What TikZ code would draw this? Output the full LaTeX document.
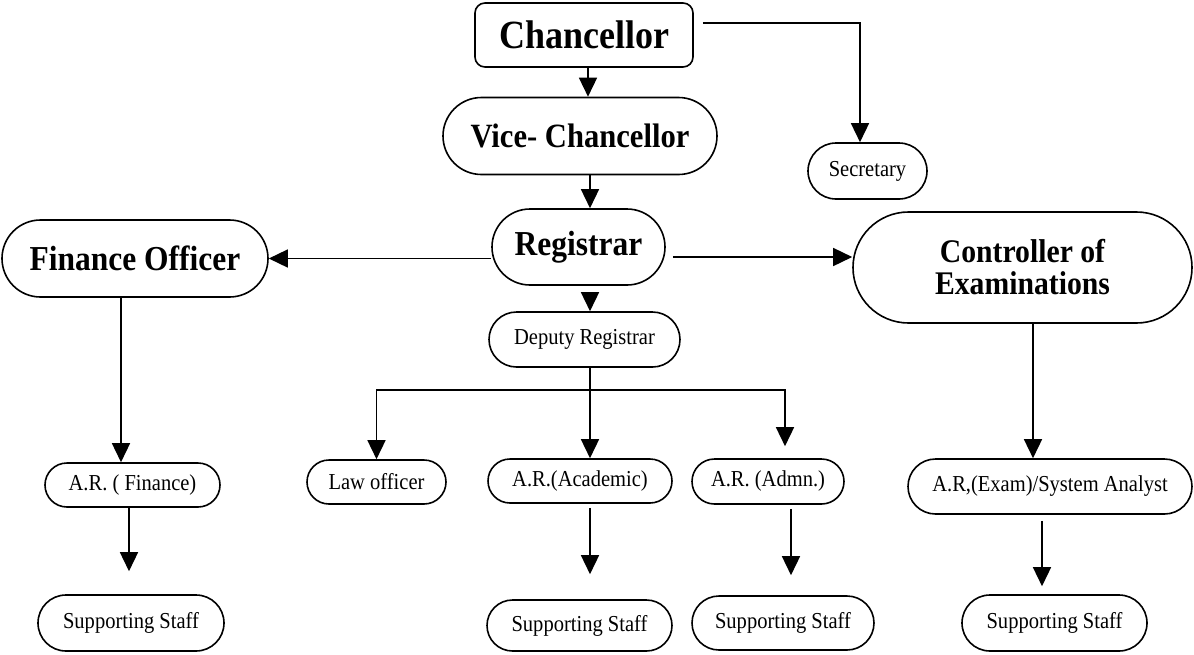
\documentclass[tikz,border=0pt]{standalone}
\usepackage{fontspec}
\setmainfont{Liberation Serif}[FakeStretch=0.9]
\usetikzlibrary{shapes.misc,arrows.meta,calc}
\begin{document}
\begin{tikzpicture}[x=1pt,y=-1pt,
  pill/.style={rounded rectangle, draw, line width=1.6pt, inner sep=0pt, align=center},
  bigtxt/.style={font=\fontsize{35}{37}\selectfont\bfseries},
  smalltxt/.style={font=\fontsize{22.8}{25}\selectfont},
  arr/.style={draw, line width=1.5pt, -{Triangle[length=19pt,width=18pt]}},
  ln/.style={draw, line width=1.5pt}]
\useasboundingbox (0,0) rectangle (1194,654);

% nodes
\node[draw, line width=1.6pt, rounded corners=10pt, minimum width=218pt, minimum height=64pt, inner sep=0pt,
      font=\fontsize{40}{42}\selectfont\bfseries] (chan) at (584,35) {Chancellor};
\node[pill, font=\fontsize{34}{36}\selectfont\bfseries, minimum width=274pt, minimum height=77pt] (vc) at (580,136) {Vice- Chancellor};
\node[pill, bigtxt, minimum width=173pt, minimum height=76pt] (reg) at (578.5,247) {Registrar};
\node[pill, smalltxt, minimum width=191pt, minimum height=55pt] (dr) at (584.5,339.5) {Deputy Registrar};
\node[pill, bigtxt, minimum width=266pt, minimum height=77pt] (fo) at (135,258.5) {Finance Officer};
\node[pill, font=\fontsize{33}{32}\selectfont\bfseries, minimum width=339pt, minimum height=111pt] (coe) at (1022.5,267.5) {Controller of\\Examinations};
\node[pill, smalltxt, minimum width=119pt, minimum height=56pt] (sec) at (867.5,171) {Secretary};

\node[pill, smalltxt, minimum width=175pt, minimum height=44pt] (arf) at (132.5,485) {A.R. ( Finance)};
\node[pill, smalltxt, minimum width=139pt, minimum height=44pt] (law) at (376.5,482) {Law officer};
\node[pill, smalltxt, minimum width=184pt, minimum height=44pt] (ara) at (580,481) {A.R.(Academic)};
\node[pill, smalltxt, minimum width=152pt, minimum height=45pt] (arad) at (768,481.5) {A.R. (Admn.)};
\node[pill, smalltxt, minimum width=284pt, minimum height=55pt] (are) at (1050,486.5) {A.R,(Exam)/System Analyst};

\node[pill, smalltxt, minimum width=186pt, minimum height=56pt] (ss1) at (131,623) {Supporting Staff};
\node[pill, smalltxt, minimum width=185pt, minimum height=51pt] (ss2) at (579.5,625.5) {Supporting Staff};
\node[pill, smalltxt, minimum width=182pt, minimum height=54pt] (ss3) at (783,623) {Supporting Staff};
\node[pill, smalltxt, minimum width=185pt, minimum height=56pt] (ss4) at (1054.5,623) {Supporting Staff};

% helper coordinates
\coordinate (c588) at (588,0);
\coordinate (c590) at (590,0);
\coordinate (secline) at (860,23);
\coordinate (hy) at (0,257);
\coordinate (bus) at (590,390);
\coordinate (admcol) at (785,390);
\coordinate (c121) at (121,0);
\coordinate (c129) at (129,0);
\coordinate (c791) at (791,0);
\coordinate (c1033) at (1033,0);
\coordinate (c1042) at (1042,0);

% connectors
\draw[arr] (chan.south -| c588) -- (vc.north -| c588);
\draw[arr, shorten <=9pt] (chan.east |- secline) -| (sec.north -| secline);
\draw[arr] (vc.south -| c590) -- (reg.north -| c590);
\draw[arr] (reg.west |- fo.east) -- (fo.east);
\draw[arr, shorten <=7pt] (reg.east |- hy) -- (coe.west |- hy);
\draw[arr, shorten <=9pt] (reg.south -| c590) -- (dr.north -| c590);
\draw[ln] (dr.south -| bus) -- (bus);
\draw[arr] (bus) -| (law.north);
\draw[arr] (bus) -- (ara.north -| bus);
\draw[arr, shorten >=12pt] (bus) -| (arad.north -| admcol);
\draw[arr] (fo.south -| c121) -- (arf.north -| c121);
\draw[arr, shorten >=23pt] (arf.south -| c129) -- (ss1.north -| c129);
\draw[arr, shorten <=4pt, shorten >=25pt] (ara.south -| c590) -- (ss2.north -| c590);
\draw[arr, shorten <=4pt, shorten >=20pt] (arad.south -| c791) -- (ss3.north -| c791);
\draw[arr] (coe.south -| c1033) -- (are.north -| c1033);
\draw[arr, shorten <=6pt, shorten >=8pt] (are.south -| c1042) -- (ss4.north -| c1042);
\end{tikzpicture}
\end{document}
